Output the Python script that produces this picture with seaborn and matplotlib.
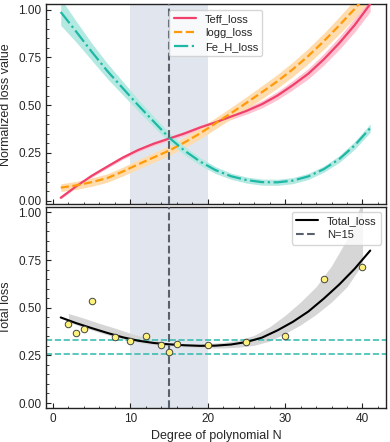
import numpy as np
import pandas as pd
import matplotlib
matplotlib.use("Agg")
import matplotlib.pyplot as plt
from matplotlib.ticker import MultipleLocator
import seaborn as sns

# ---- data ----
deg = [1, 3, 5, 7, 9, 11, 13, 15, 17, 19, 21, 23, 25, 27, 29, 31, 33, 35, 37, 39, 41]

teff = [0.015, 0.075, 0.13, 0.178, 0.225, 0.265, 0.298, 0.325, 0.352, 0.383, 0.41,
        0.44, 0.47, 0.505, 0.55, 0.605, 0.665, 0.74, 0.825, 0.92, 1.03]
teff_err = [0.006, 0.007, 0.008, 0.008, 0.009, 0.009, 0.01, 0.01, 0.011, 0.012, 0.013,
            0.015, 0.017, 0.019, 0.021, 0.024, 0.027, 0.03, 0.033, 0.036, 0.04]

logg = [0.068, 0.08, 0.097, 0.118, 0.152, 0.19, 0.226, 0.262, 0.305, 0.352, 0.405,
        0.458, 0.512, 0.568, 0.625, 0.688, 0.758, 0.835, 0.918, 1.005, 1.10]
logg_err = [0.02, 0.021, 0.022, 0.022, 0.023, 0.024, 0.025, 0.026, 0.027, 0.028, 0.029,
            0.03, 0.032, 0.034, 0.036, 0.038, 0.04, 0.042, 0.045, 0.048, 0.05]

feh = [0.988, 0.885, 0.78, 0.68, 0.59, 0.50, 0.415, 0.33, 0.262, 0.205, 0.16,
       0.128, 0.108, 0.097, 0.096, 0.105, 0.127, 0.165, 0.218, 0.29, 0.38]
feh_err = [0.07, 0.055, 0.045, 0.04, 0.035, 0.03, 0.027, 0.025, 0.022, 0.02, 0.018,
           0.016, 0.016, 0.016, 0.016, 0.016, 0.016, 0.016, 0.018, 0.02, 0.022]

# total loss measurements
pts_n = [2, 3, 4, 5, 8, 10, 12, 14, 15, 16, 20, 25, 30, 35, 40]
pts_loss = [0.414, 0.368, 0.387, 0.534, 0.347, 0.328, 0.351, 0.307, 0.267, 0.309,
            0.307, 0.319, 0.352, 0.649, 0.716]

# smooth fit of total loss
fit_y = [0.449, 0.419, 0.393, 0.368, 0.345, 0.327, 0.315, 0.308, 0.303, 0.300, 0.301,
         0.307, 0.320, 0.343, 0.381, 0.426, 0.480, 0.548, 0.622, 0.705, 0.800]

band_n = [2, 4, 6, 8, 10, 12, 14, 16, 18, 20, 22, 24, 26, 28, 30, 32, 34, 36, 38, 40]
band_lo = [0.425, 0.396, 0.37, 0.347, 0.326, 0.311, 0.302, 0.297, 0.292, 0.289, 0.289,
           0.293, 0.303, 0.325, 0.365, 0.41, 0.465, 0.53, 0.61, 0.73]
band_hi = [0.47, 0.445, 0.418, 0.393, 0.366, 0.343, 0.322, 0.313, 0.311, 0.312, 0.318,
           0.33, 0.355, 0.40, 0.46, 0.53, 0.61, 0.72, 0.86, 1.06]

upper_ref, lower_ref = 0.333, 0.257
best_n = 15
span = (10, 20)

series = [("Teff_loss", teff, teff_err, "#f0406c", "#ffc2d1", "-"),
          ("logg_loss", logg, logg_err, "#ff9a0a", "#ffdcad", "--"),
          ("Fe_H_loss", feh, feh_err, "#1db8a6", "#b4e9e2", "-.")]

sns.set_style("ticks")
plt.rcParams["font.family"] = ["Liberation Sans", "DejaVu Sans"]
plt.rcParams.update({
    "xtick.direction": "in", "ytick.direction": "in",
    "axes.edgecolor": "#222222", "axes.linewidth": 1.0,
    "xtick.major.size": 3.5, "ytick.major.size": 3.5,
    "xtick.minor.size": 1.8, "ytick.minor.size": 1.8,
    "xtick.labelsize": 8.5, "ytick.labelsize": 8.5,
    "axes.labelsize": 9,
})

fig, (ax1, ax2) = plt.subplots(2, 1, sharex=True, figsize=(3.9, 4.42), dpi=100)
fig.subplots_adjust(left=0.118, right=0.989, top=0.991, bottom=0.077, hspace=0.015)

for ax in (ax1, ax2):
    ax.axvspan(*span, color="#e1e6ee", zorder=0, lw=0)

# top panel
for name, vals, err, c, fc, ls in series:
    lo = np.array(vals) - np.array(err)
    hi = np.array(vals) + np.array(err)
    ax1.fill_between(deg, lo, hi, color=fc, lw=0, zorder=1)
    sns.lineplot(x=deg, y=vals, ax=ax1, color=c, linestyle=ls, lw=1.6, label=name, zorder=3)
ax1.axvline(best_n, color="#59626c", ls="--", lw=1.5, zorder=4)
ax1.set_ylim(-0.02, 1.03)
ax1.set_ylabel("Normalized loss value")
ax1.legend(loc="upper center", fontsize=8, labelspacing=0.35, handlelength=2.0,
           borderaxespad=0.5)

# bottom panel
ax2.fill_between(band_n, band_lo, band_hi, color="#d6d6d6", lw=0, zorder=1)
sns.lineplot(x=deg, y=fit_y, ax=ax2, color="black", lw=1.5, label="Total_loss", zorder=3)
ax2.axvline(best_n, color="#59626c", ls="--", lw=1.5, zorder=4, label=f"N={best_n}")
ax2.axhline(upper_ref, color="#3dbdb0", ls="--", lw=1.2, zorder=2)
ax2.axhline(lower_ref, color="#3dbdb0", ls="--", lw=1.2, zorder=2)
sns.scatterplot(x=pts_n, y=pts_loss, ax=ax2, color="#fff27a", edgecolor="#444444",
                linewidth=0.7, s=22, zorder=5)
ax2.set_ylim(-0.026, 1.026)
ax2.set_ylabel("Total loss")
ax2.set_xlabel("Degree of polynomial N")
ax2.legend(loc="upper right", fontsize=8, labelspacing=0.35, borderaxespad=0.4)

ax2.set_xlim(-0.9, 43)
for ax in (ax1, ax2):
    ax.xaxis.set_major_locator(MultipleLocator(10))
    ax.xaxis.set_minor_locator(MultipleLocator(2))
    ax.yaxis.set_major_locator(MultipleLocator(0.25))
    ax.yaxis.set_minor_locator(MultipleLocator(0.05))
    ax.tick_params(which="both", direction="in", color="#222222")
    ax.yaxis.set_major_formatter(matplotlib.ticker.FormatStrFormatter("%.2f"))

fig.savefig("out.png", dpi=100)
